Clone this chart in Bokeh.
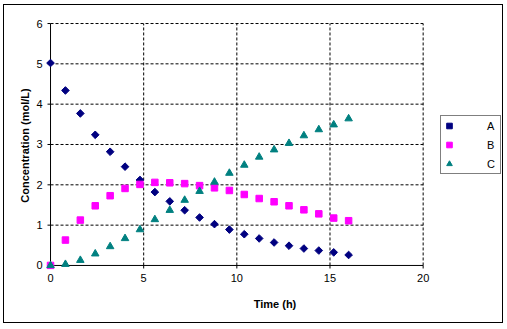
import numpy as np
from bokeh.plotting import figure
from bokeh.models import Range1d, FixedTicker, Legend, LegendItem
from bokeh.embed import file_html
from bokeh.resources import INLINE

time_h = [0.0, 0.8, 1.6, 2.4, 3.2, 4.0, 4.8, 5.6, 6.4, 7.2, 8.0, 8.8, 9.6,
          10.4, 11.2, 12.0, 12.8, 13.6, 14.4, 15.2, 16.0]
conc_a = [5.02, 4.34, 3.77, 3.24, 2.82, 2.45, 2.12, 1.82, 1.59, 1.37, 1.19, 1.025, 0.89,
          0.775, 0.67, 0.57, 0.49, 0.42, 0.37, 0.325, 0.26]
conc_b = [0.0, 0.63, 1.125, 1.48, 1.73, 1.91, 2.01, 2.06, 2.05, 2.03, 1.98, 1.925, 1.86,
          1.76, 1.66, 1.58, 1.48, 1.38, 1.28, 1.175, 1.11]
conc_c = [0.0, 0.03, 0.13, 0.29, 0.47, 0.67, 0.89, 1.14, 1.37, 1.62, 1.84, 2.07, 2.29,
          2.49, 2.69, 2.87, 3.03, 3.22, 3.37, 3.49, 3.64]
series_names = ["A", "B", "C"]
x_ticks = [0, 5, 10, 15, 20]
y_ticks = [0, 1, 2, 3, 4, 5, 6]

FONT = "Liberation Sans"

# frame scale: 18.55 px per hour, 40 px per mol/L.
# The frame is padded a little left/below so markers on the axes are not clipped,
# and extended right to hold the legend.
PX_X = 371 / 20
PX_Y = 40.0
X_START = -5 / PX_X
X_END = 452 / PX_X
Y_START = -4 / PX_Y
Y_END = 6 + 2 / PX_Y
TICK = 3
p = figure(width=498, height=317, output_backend="svg", toolbar_location=None,
           x_range=Range1d(X_START, X_END), y_range=Range1d(Y_START, Y_END),
           min_border_left=41, min_border_right=0, min_border_top=16, min_border_bottom=55)
p.styles = {"margin-left": "3px", "margin-top": "4px",
            "border": "1px solid black", "box-sizing": "content-box"}
p.outline_line_color = None
p.background_fill_color = "white"
p.border_fill_color = "white"
p.xgrid.visible = False
p.ygrid.visible = False

for ax in (p.xaxis[0], p.yaxis[0]):
    ax.axis_line_color = None
    ax.major_tick_line_color = None
    ax.major_tick_out = 0
    ax.major_tick_in = 0
    ax.minor_tick_line_color = None
    ax.major_label_text_font = FONT
    ax.major_label_text_font_size = "11px"
    ax.major_label_text_color = "black"
    ax.axis_label_text_font = FONT
    ax.axis_label_text_font_size = "11px"
    ax.axis_label_text_font_style = "bold"
    ax.axis_label_text_color = "black"

p.xaxis.ticker = FixedTicker(ticks=x_ticks)
p.yaxis.ticker = FixedTicker(ticks=y_ticks)
p.xaxis.bounds = (x_ticks[0], x_ticks[-1])
p.yaxis.bounds = (y_ticks[0], y_ticks[-1])
p.xaxis.axis_label = "Time (h)"
p.yaxis.axis_label = "Concentration (mol/L)"
p.xaxis.major_label_standoff = 4
p.xaxis.axis_label_standoff = 13
p.yaxis.major_label_standoff = 3
p.yaxis.axis_label_standoff = 2

# dashed gridlines, limited to the data area
hy = y_ticks[1:]
p.segment(x0=[x_ticks[0]] * len(hy), x1=[x_ticks[-1]] * len(hy), y0=hy, y1=hy,
          line_color="black", line_dash="3 2", line_width=1)
vx = x_ticks[1:]
p.segment(x0=vx, x1=vx, y0=[y_ticks[0]] * len(vx), y1=[y_ticks[-1]] * len(vx),
          line_color="black", line_dash="3 2", line_width=1)

# solid axis lines at x=0 / y=0 and outward tick marks
p.segment(x0=[x_ticks[0], x_ticks[0]], x1=[x_ticks[0], x_ticks[-1]],
          y0=[y_ticks[0], y_ticks[0]], y1=[y_ticks[-1], y_ticks[0]],
          line_color="black", line_width=1)
p.segment(x0=[x_ticks[0] - TICK / PX_X] * len(y_ticks), x1=[x_ticks[0]] * len(y_ticks),
          y0=y_ticks, y1=y_ticks, line_color="black", line_width=1)
p.segment(x0=x_ticks, x1=x_ticks, y0=[y_ticks[0] - TICK / PX_Y] * len(x_ticks),
          y1=[y_ticks[0]] * len(x_ticks), line_color="black", line_width=1)

ra = p.scatter(time_h, conc_a, marker="square", angle=np.pi / 4, size=5.4,
               fill_color="#000080", line_color="#000080")
rb = p.scatter(time_h, conc_b, marker="square", size=6.5,
               fill_color="#FF00FF", line_color="#FF00FF")
rc = p.scatter(time_h, conc_c, marker="triangle", size=7.5,
               fill_color="#008080", line_color="#008080")

legend = Legend(items=[LegendItem(label=series_names[0], renderers=[ra]),
                       LegendItem(label=series_names[1], renderers=[rb]),
                       LegendItem(label=series_names[2], renderers=[rc])],
                location=(395, 95))
legend.border_line_color = "black"
legend.border_line_width = 1
legend.background_fill_color = "white"
legend.background_fill_alpha = 1
legend.padding = 1
legend.margin = 0
legend.spacing = 2
legend.glyph_width = 14
legend.glyph_height = 17
legend.label_height = 17
legend.label_width = 12
legend.label_standoff = 31
legend.label_text_font = FONT
legend.label_text_font_size = "11px"
legend.label_text_color = "black"
p.add_layout(legend, "center")

open("out.html", "w").write(file_html(p, INLINE))
